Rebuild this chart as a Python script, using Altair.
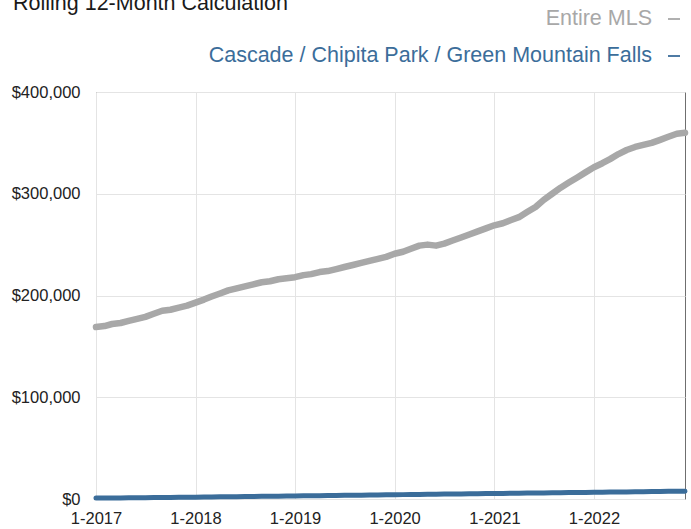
import altair as alt
import pandas as pd

# Monthly points, January 2017 through December 2022
months = pd.date_range("2017-01-01", "2022-12-01", freq="MS").strftime("%Y-%m-%d").tolist()

# Rolling 12-month median sales price, Entire MLS (USD)
entire_mls = [
    169000, 170000, 172000, 173000, 175000, 177000, 179000, 182000, 185000, 186000, 188000, 190000,
    193000, 196000, 199000, 202000, 205000, 207000, 209000, 211000, 213000, 214000, 216000, 217000,
    218000, 220000, 221000, 223000, 224000, 226000, 228000, 230000, 232000, 234000, 236000, 238000,
    241000, 243000, 246000, 249000, 250000, 249000, 251000, 254000, 257000, 260000, 263000, 266000,
    269000, 271000, 274000, 277000, 282000, 287000, 294000, 300000, 306000, 311000, 316000, 321000,
    326000, 330000, 334000, 339000, 343000, 346000, 348000, 350000, 353000, 356000, 359000, 360000,
]

# Rolling 12-month figure, Cascade / Chipita Park / Green Mountain Falls (USD)
cascade = [
    1000, 1000, 1000, 1100, 1200, 1200, 1300, 1400, 1500, 1500, 1600, 1700,
    1800, 1900, 2000, 2100, 2200, 2300, 2400, 2500, 2600, 2700, 2800, 2900,
    3000, 3100, 3200, 3300, 3400, 3500, 3600, 3700, 3800, 3900, 4000, 4100,
    4200, 4300, 4400, 4500, 4600, 4700, 4800, 4900, 5000, 5100, 5200, 5300,
    5400, 5500, 5600, 5700, 5800, 5900, 6000, 6100, 6200, 6300, 6400, 6500,
    6600, 6700, 6800, 6900, 7000, 7100, 7200, 7300, 7400, 7500, 7600, 7700,
]

series_names = ["Entire MLS", "Cascade / Chipita Park / Green Mountain Falls"]
series_colors = ["#a8a8a8", "#3b6d9a"]
year_ticks = ["2017-01-01", "2018-01-01", "2019-01-01", "2020-01-01", "2021-01-01", "2022-01-01"]
y_ticks = [0, 100000, 200000, 300000, 400000]

W, H = 589, 407

df = pd.DataFrame({
    "month": months * 2,
    "price": entire_mls + cascade,
    "series": [series_names[0]] * len(months) + [series_names[1]] * len(months),
})

x_enc = alt.X(
    "month:T",
    scale=alt.Scale(domain=[months[0], months[-1]]),
    axis=alt.Axis(
        values=year_ticks, format="%-m-%Y", title=None, ticks=False, domain=False,
        labelFont="Liberation Sans", labelFontSize=16.5, labelColor="#222222",
        labelPadding=11, labelAngle=0, labelFlush=False,
        grid=True, gridColor="#e4e4e4", gridWidth=1,
    ),
)
y_enc = alt.Y(
    "price:Q",
    scale=alt.Scale(domain=[0, 400000], nice=False),
    axis=alt.Axis(
        values=y_ticks, format="$,.0f", title=None, ticks=False, domain=False,
        labelFont="Liberation Sans", labelFontSize=16.5, labelColor="#222222",
        labelPadding=16,
        grid=True, gridColor="#e4e4e4", gridWidth=1,
    ),
)

lines = alt.Chart(df).mark_line(strokeCap="round", strokeJoin="round").encode(
    x=x_enc,
    y=y_enc,
    color=alt.Color("series:N", scale=alt.Scale(domain=series_names, range=series_colors), legend=None),
    strokeWidth=alt.StrokeWidth("series:N", scale=alt.Scale(domain=series_names, range=[6.5, 5]), legend=None),
    detail="series:N",
)

# Legend: right-aligned series names followed by a short colored dash
legend_df = pd.DataFrame({
    "series": series_names,
    "color": series_colors,
    "ypos": [-73, -36],
})

legend_text = alt.Chart(legend_df).mark_text(
    align="right", baseline="middle", font="Liberation Sans", fontSize=21.5
).encode(
    text="series:N",
    x=alt.value(556),
    y=alt.Y("ypos:Q", scale=None),
    color=alt.Color("color:N", scale=None),
)

legend_dash = alt.Chart(legend_df).mark_rule(strokeWidth=1.8).encode(
    x=alt.value(572),
    x2=alt.value(584),
    y=alt.Y("ypos:Q", scale=None),
    color=alt.Color("color:N", scale=None),
)

title_df = pd.DataFrame({"label": ["Rolling 12-Month Calculation"]})
title = alt.Chart(title_df).mark_text(
    align="left", baseline="alphabetic", font="Liberation Sans", fontSize=21.5, color="#1a1a1a"
).encode(
    text="label:N",
    x=alt.value(-83),
    y=alt.value(-82),
)

chart = alt.layer(lines, legend_text, legend_dash, title).properties(
    width=W,
    height=H,
    autosize=alt.AutoSizeParams(type="none"),
    padding={"left": 96, "top": 92, "right": 6, "bottom": 30},
    background="white",
).configure_view(
    stroke="#6f6f6f", strokeWidth=1
)

chart.save("out.html", embed_options={"renderer": "svg", "actions": False})
